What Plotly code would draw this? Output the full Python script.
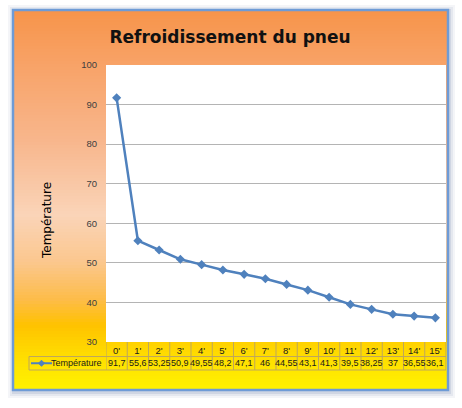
import plotly.graph_objects as go

# Data
minutes = ["0'", "1'", "2'", "3'", "4'", "5'", "6'", "7'",
           "8'", "9'", "10'", "11'", "12'", "13'", "14'", "15'"]
temperature = [91.7, 55.6, 53.25, 50.9, 49.55, 48.2, 47.1, 46,
               44.55, 43.1, 41.3, 39.5, 38.25, 37, 36.55, 36.1]
series_name = 'Température'
chart_title = 'Refroidissement du pneu'

W, H = 462, 408
# plot area in pixels
L, R, T, B = 106, 446, 65, 342
BLUE = '#4F81BD'
GRID = '#B4B4B4'
CELL = '#BFA75A'
FONT = "'Liberation Sans', Arial, sans-serif"


def px_x(p):
    return (p - L) / (R - L)


def px_y(p):
    return (B - p) / (B - T)


def hexrgb(h):
    h = h.lstrip('#')
    return [int(h[i:i + 2], 16) for i in (0, 2, 4)]


def gradient_at(p, stops):
    for (p0, c0), (p1, c1) in zip(stops, stops[1:]):
        if p0 <= p <= p1:
            t = (p - p0) / (p1 - p0)
            a, b = hexrgb(c0), hexrgb(c1)
            return 'rgb(%d,%d,%d)' % tuple(round(a[i] + (b[i] - a[i]) * t) for i in range(3))
    return stops[-1][1]


shapes = []

# frame: soft shadow then gradient fill
FX0, FX1, FY0, FY1 = 13, 448, 10, 390
for k, alpha in [(6, 0.06), (4, 0.08), (2, 0.12)]:
    shapes.append(dict(type='rect', xref='paper', yref='paper', layer='below',
                       x0=px_x(FX0 - k + 1), x1=px_x(FX1 + k + 1),
                       y0=px_y(FY1 + k + 2), y1=px_y(FY0 - k + 1),
                       fillcolor='rgba(60,90,140,%.2f)' % alpha, line_width=0))

stops = [(10, '#F7944A'), (70, '#F8A46A'), (140, '#F8B68C'), (215, '#FAD4B8'),
         (262, '#FBC78E'), (300, '#FDBC48'), (325, '#FFC200'), (350, '#FFD800'),
         (372, '#FFE800'), (390, '#FFF200')]
step = 3
for y in range(FY0, FY1, step):
    shapes.append(dict(type='rect', xref='paper', yref='paper', layer='below',
                       x0=px_x(FX0), x1=px_x(FX1), y0=px_y(min(y + step + 0.6, FY1)), y1=px_y(y),
                       fillcolor=gradient_at(y + step / 2, stops), line_width=0))

# white plot area
shapes.append(dict(type='rect', xref='paper', yref='paper', layer='below',
                   x0=0, x1=1, y0=0, y1=1, fillcolor='white', line_width=0))

# frame border
shapes.append(dict(type='rect', xref='paper', yref='paper', layer='above',
                   x0=px_x(FX0), x1=px_x(FX1), y0=px_y(FY1), y1=px_y(FY0),
                   line=dict(color='#6E9BD6', width=2.5)))

# data table grid
ROW1, ROW2, ROW3 = 342, 356.5, 370
LEG_X0 = 29
for yy in (ROW2, ROW3):
    shapes.append(dict(type='line', xref='paper', yref='paper', layer='above',
                       x0=px_x(LEG_X0), x1=1, y0=px_y(yy), y1=px_y(yy),
                       line=dict(color=CELL, width=1)))
shapes.append(dict(type='line', xref='paper', yref='paper', layer='above',
                   x0=px_x(LEG_X0), x1=px_x(LEG_X0), y0=px_y(ROW2), y1=px_y(ROW3),
                   line=dict(color=CELL, width=1)))
for i in range(len(minutes) + 1):
    shapes.append(dict(type='line', xref='x', yref='paper', layer='above',
                       x0=i - 0.5, x1=i - 0.5, y0=px_y(ROW1), y1=px_y(ROW3),
                       line=dict(color=CELL, width=1)))

# legend key inside the table
LEG_Y = (ROW2 + ROW3) / 2
shapes.append(dict(type='line', xref='paper', yref='paper', layer='above',
                   x0=px_x(31), x1=px_x(52), y0=px_y(LEG_Y), y1=px_y(LEG_Y),
                   line=dict(color=BLUE, width=2)))
cx, cy, d = 41.5, LEG_Y, 3
shapes.append(dict(type='path', xref='paper', yref='paper', layer='above',
                   path='M %f %f L %f %f L %f %f L %f %f Z' % (
                       px_x(cx - d), px_y(cy), px_x(cx), px_y(cy - d),
                       px_x(cx + d), px_y(cy), px_x(cx), px_y(cy + d)),
                   fillcolor=BLUE, line=dict(color=BLUE, width=1)))

annotations = []
for m, v in zip(minutes, temperature):
    annotations.append(dict(x=m, y=px_y(LEG_Y), xref='x', yref='paper',
                            text=('%g' % v).replace('.', ','), showarrow=False,
                            xanchor='center', yanchor='middle',
                            font=dict(family=FONT, size=9, color='#1a1a1a')))
annotations.append(dict(x=px_x(104), y=px_y(LEG_Y), xref='paper', yref='paper',
                        xanchor='right', yanchor='middle', text=series_name, showarrow=False,
                        font=dict(family=FONT, size=9, color='#1a1a1a')))
annotations.append(dict(x=px_x(47), y=px_y(221), xref='paper', yref='paper',
                        xanchor='center', yanchor='middle',
                        text=series_name, textangle=-90, showarrow=False,
                        font=dict(family="'DejaVu Sans', sans-serif", size=12, color='#000000')))

fig = go.Figure()
fig.add_trace(go.Scatter(
    x=minutes, y=temperature, mode='lines+markers', name=series_name,
    line=dict(color=BLUE, width=2.5),
    marker=dict(symbol='diamond', size=7, color=BLUE),
    showlegend=False, cliponaxis=False,
))

fig.update_layout(
    width=W, height=H,
    margin=dict(l=L, r=W - R, t=T, b=H - B),
    paper_bgcolor='white', plot_bgcolor='white',
    title=dict(text='<b>%s</b>' % chart_title, x=230 / W, xanchor='center',
               y=1 - 37 / H, yanchor='middle',
               font=dict(family="'DejaVu Sans', sans-serif", size=17, color='#111111')),
    font=dict(family=FONT, size=9, color='#404040'),
    shapes=shapes, annotations=annotations,
    showlegend=False,
)
fig.update_xaxes(type='category', range=[-0.5, len(minutes) - 0.5],
                 showgrid=False, zeroline=False, showline=False, ticks='',
                 ticklabelstandoff=1, tickfont=dict(family=FONT, size=9.5, color='#1a1a1a'))
fig.update_yaxes(range=[30, 100], dtick=10, showgrid=True, gridcolor=GRID, gridwidth=1,
                 zeroline=False, showline=False, ticks='', ticklabelstandoff=8,
                 tickfont=dict(family=FONT, size=9.5, color='#404040'))

fig.write_html("out.html", config={'displayModeBar': False},
               post_script="document.body.style.margin='0';")
